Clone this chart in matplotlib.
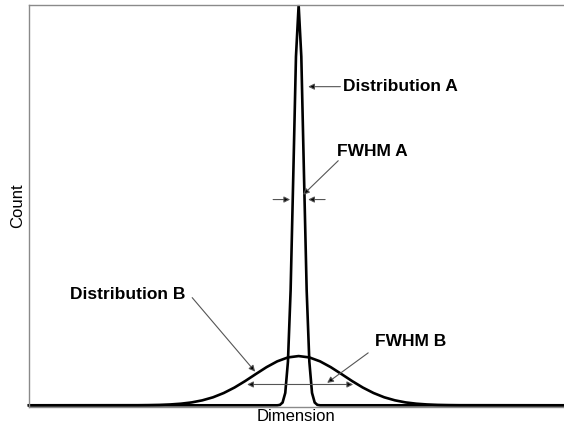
import matplotlib
matplotlib.use("Agg")
import matplotlib.pyplot as plt

plt.rcParams['font.family'] = ['Liberation Sans', 'DejaVu Sans']

# Distribution A (narrow)
dim_a = [-50.4, -4.0, -3.5, -3.0, -2.5, -2.0, -1.5, -1.0, -0.5, 0.0,
         0.5, 1.0, 1.5, 2.0, 2.5, 3.0, 3.5, 4.0, 49.6]
count_a = [0.0, 0.0, 0.001, 0.007, 0.031, 0.109, 0.287, 0.575, 0.871, 1.0,
           0.871, 0.575, 0.287, 0.109, 0.031, 0.007, 0.001, 0.0, 0.0]

# Distribution B (wide)
dim_b = [-50.4, -30, -28, -26, -24, -22, -20, -18, -16, -14, -12, -10, -8, -6, -4, -2, 0,
         2, 4, 6, 8, 10, 12, 14, 16, 18, 20, 22, 24, 26, 28, 30, 49.6]
count_b = [0.0, 0.0002, 0.0005, 0.0010, 0.0021, 0.0040, 0.0072, 0.0124, 0.0200, 0.0307,
           0.0443, 0.0605, 0.0781, 0.0953, 0.1098, 0.1196, 0.123,
           0.1196, 0.1098, 0.0953, 0.0781, 0.0605, 0.0443, 0.0307, 0.0200, 0.0124,
           0.0072, 0.0040, 0.0021, 0.0010, 0.0005, 0.0002, 0.0]

x_label = "Dimension"
y_label = "Count"
label_a = "Distribution A"
label_b = "Distribution B"
label_fwhm_a = "FWHM A"
label_fwhm_b = "FWHM B"

fig = plt.figure(figsize=(5.64, 4.29), dpi=100)
ax = fig.add_axes([29/564, (429-406.5)/429, 1 - 29/564, (406.5-5)/429])

ax.plot(dim_a, count_a, color='black', lw=1.9, solid_joinstyle='miter', clip_on=False)
ax.plot(dim_b, count_b, color='black', lw=1.9, clip_on=False)

ax.set_xlim(-50.4, 49.6)
ax.set_ylim(-0.003, 1.0)
ax.set_xticks([])
ax.set_yticks([])
for s in ['left', 'top', 'bottom']:
    ax.spines[s].set_color('#8a8a8a')
    ax.spines[s].set_linewidth(1.0)
ax.spines['right'].set_visible(False)

ax.set_xlabel(x_label, fontsize=12, labelpad=2)
ax.set_ylabel(y_label, fontsize=12, labelpad=3)

ap = dict(arrowstyle='-|>', fc='black', ec='#555555', lw=0.8, mutation_scale=9,
          shrinkA=0, shrinkB=0)
dap = dict(arrowstyle='<|-|>', fc='black', ec='#555555', lw=0.8, mutation_scale=9,
           shrinkA=0, shrinkB=0)

fs = 12.5
# Distribution A
ax.text(8.3, 0.796, label_a, fontsize=fs, fontweight='bold', ha='left', va='center')
ax.annotate('', xy=(1.78, 0.796), xytext=(7.8, 0.796), arrowprops=ap)
# FWHM A
ax.text(7.2, 0.634, label_fwhm_a, fontsize=fs, fontweight='bold', ha='left', va='center')
ax.annotate('', xy=(0.84, 0.526), xytext=(7.4, 0.611), arrowprops=ap)
ax.annotate('', xy=(-1.59, 0.514), xytext=(-4.77, 0.514), arrowprops=ap)
ax.annotate('', xy=(1.78, 0.514), xytext=(4.95, 0.514), arrowprops=ap)
# Distribution B
ax.text(-42.7, 0.276, label_b, fontsize=fs, fontweight='bold', ha='left', va='center')
ax.annotate('', xy=(-8.13, 0.084), xytext=(-19.9, 0.269), arrowprops=ap)
# FWHM B
ax.text(14.3, 0.159, label_fwhm_b, fontsize=fs, fontweight='bold', ha='left', va='center')
ax.annotate('', xy=(5.33, 0.056), xytext=(13.0, 0.131), arrowprops=ap)
ax.annotate('', xy=(10.19, 0.052), xytext=(-9.63, 0.052), arrowprops=dap)

fig.savefig('out.png', dpi=100)
